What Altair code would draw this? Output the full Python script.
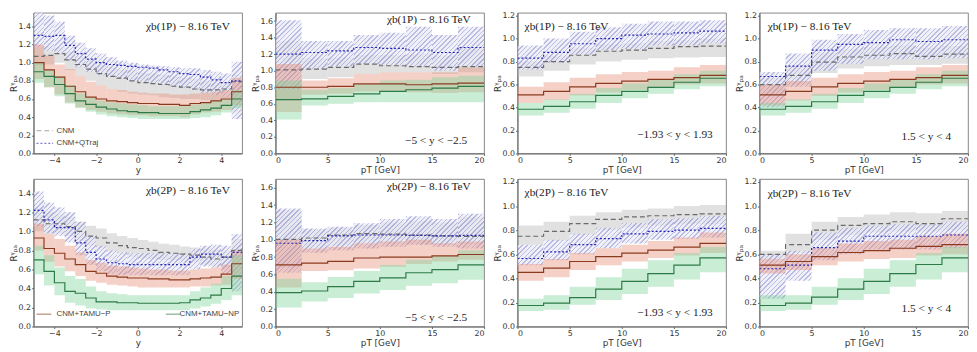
import math
import altair as alt
import pandas as pd

# ---------------- bins & ticks ----------------
Y_EDGES = [-5.0, -4.5, -4.0, -3.5, -3.0, -2.5, -2.0, -1.5, -1.0, -0.5, 0.0,
           0.5, 1.0, 1.5, 2.0, 2.5, 3.0, 3.5, 4.0, 4.5, 5.0]
PT_EDGES = [0.0, 2.5, 5.0, 7.5, 10.0, 12.5, 15.0, 17.5, 20.0]
Y_TICKS = [-4, -2, 0, 2, 4]
PT_TICKS = [0, 5, 10, 15, 20]
R_TICKS_HI = [0.0, 0.2, 0.4, 0.6, 0.8, 1.0, 1.2, 1.4, 1.6]
R_TICKS_LO = [0.0, 0.2, 0.4, 0.6, 0.8, 1.0, 1.2]

SERIES = ["CNM", "CNM+QTraj", "CNM+TAMU\u2212P", "CNM+TAMU\u2212NP"]
LINE_COLORS = ["#6a6a6a", "#2323b5", "#8a3b1e", "#2c7a45"]
BAND_COLORS = ["#bdbdbd", "#9a9ad8", "#e8907a", "#7fd39b"]
BAND_OPACITY = [0.45, 0.32, 0.42, 0.42]
DASHES = [[5, 3], [2, 2], None, None]
HATCH_LINE = "#9d9dd6"
HATCH_BG = "#e9e9f6"

# ---------------- chi_b(1P) vs y ----------------
P1_CNM = [1.07, 1.08, 1.10, 1.03, 0.98, 0.93, 0.88, 0.85, 0.83, 0.80, 0.78, 0.77, 0.76, 0.74, 0.73, 0.71, 0.70, 0.70, 0.71, 0.79]
P1_CNM_HI = [1.20, 1.18, 1.17, 1.12, 1.07, 1.03, 0.98, 0.95, 0.93, 0.92, 0.89, 0.88, 0.87, 0.85, 0.83, 0.82, 0.80, 0.79, 0.78, 0.87]
P1_CNM_LO = [0.97, 0.98, 1.00, 0.92, 0.85, 0.80, 0.75, 0.71, 0.68, 0.66, 0.65, 0.64, 0.62, 0.61, 0.60, 0.60, 0.59, 0.58, 0.61, 0.45]
P1_QT = [1.30, 1.29, 1.30, 1.19, 1.10, 1.04, 1.00, 0.98, 0.97, 0.96, 0.95, 0.94, 0.92, 0.90, 0.88, 0.87, 0.84, 0.81, 0.78, 0.80]
P1_QT_HI = [1.60, 1.52, 1.45, 1.30, 1.22, 1.16, 1.10, 1.06, 1.02, 1.00, 0.98, 0.97, 0.96, 0.95, 0.94, 0.94, 0.92, 0.90, 0.88, 1.01]
P1_QT_LO = [1.17, 1.13, 1.10, 1.02, 0.95, 0.90, 0.86, 0.84, 0.82, 0.80, 0.79, 0.78, 0.76, 0.74, 0.72, 0.70, 0.67, 0.64, 0.62, 0.38]
P1_TP = [1.00, 0.92, 0.84, 0.74, 0.68, 0.62, 0.60, 0.58, 0.57, 0.56, 0.55, 0.55, 0.54, 0.54, 0.53, 0.55, 0.56, 0.58, 0.60, 0.68]
P1_TP_HI = [1.20, 1.08, 0.98, 0.93, 0.85, 0.79, 0.75, 0.71, 0.70, 0.68, 0.67, 0.66, 0.66, 0.65, 0.65, 0.66, 0.67, 0.68, 0.70, 0.83]
P1_TP_LO = [0.82, 0.73, 0.65, 0.56, 0.51, 0.48, 0.46, 0.44, 0.43, 0.42, 0.42, 0.41, 0.41, 0.41, 0.40, 0.43, 0.45, 0.46, 0.48, 0.53]
P1_TNP = [0.90, 0.85, 0.76, 0.66, 0.58, 0.54, 0.51, 0.49, 0.47, 0.46, 0.45, 0.45, 0.44, 0.44, 0.44, 0.46, 0.48, 0.50, 0.53, 0.60]
P1_TNP_HI = [1.00, 0.92, 0.85, 0.75, 0.66, 0.62, 0.58, 0.56, 0.55, 0.54, 0.53, 0.52, 0.52, 0.52, 0.52, 0.54, 0.56, 0.58, 0.60, 0.70]
P1_TNP_LO = [0.78, 0.73, 0.63, 0.55, 0.50, 0.46, 0.43, 0.41, 0.40, 0.39, 0.38, 0.38, 0.38, 0.38, 0.38, 0.39, 0.40, 0.42, 0.45, 0.50]

# ---------------- chi_b(1P) vs pT, -5<y<-2.5 ----------------
P2_CNM = [1.01, 1.02, 1.04, 1.08, 1.06, 1.05, 1.04, 1.05]
P2_CNM_HI = [1.36, 1.15, 1.16, 1.19, 1.19, 1.20, 1.18, 1.27]
P2_CNM_LO = [0.65, 0.90, 0.92, 0.96, 0.98, 0.98, 0.96, 0.98]
P2_QT = [1.20, 1.22, 1.24, 1.28, 1.27, 1.25, 1.22, 1.28]
P2_QT_HI = [1.61, 1.36, 1.36, 1.43, 1.46, 1.53, 1.43, 1.53]
P2_QT_LO = [0.78, 1.02, 1.05, 1.08, 1.07, 1.05, 1.00, 1.05]
P2_TP = [0.80, 0.80, 0.81, 0.84, 0.84, 0.83, 0.84, 0.85]
P2_TP_HI = [1.08, 0.88, 0.91, 0.96, 0.98, 0.98, 0.98, 1.04]
P2_TP_LO = [0.50, 0.71, 0.72, 0.75, 0.75, 0.74, 0.73, 0.74]
P2_TNP = [0.65, 0.66, 0.69, 0.72, 0.75, 0.77, 0.79, 0.81]
P2_TNP_HI = [0.88, 0.77, 0.79, 0.84, 0.88, 0.89, 0.92, 0.94]
P2_TNP_LO = [0.41, 0.58, 0.60, 0.62, 0.62, 0.62, 0.62, 0.62]

# ---------------- chi_b(1P) vs pT, -1.93<y<1.93 ----------------
P3_CNM = [0.75, 0.80, 0.855, 0.89, 0.90, 0.915, 0.93, 0.935]
P3_CNM_HI = [0.80, 0.85, 0.92, 0.95, 0.96, 0.98, 0.985, 1.00]
P3_CNM_LO = [0.67, 0.72, 0.775, 0.80, 0.815, 0.83, 0.835, 0.84]
P3_QT = [0.83, 0.88, 0.955, 1.00, 1.03, 1.04, 1.05, 1.065]
P3_QT_HI = [0.94, 1.00, 1.06, 1.10, 1.13, 1.15, 1.15, 1.16]
P3_QT_LO = [0.73, 0.79, 0.86, 0.90, 0.91, 0.94, 0.94, 0.96]
P3_TP = [0.51, 0.54, 0.58, 0.61, 0.63, 0.645, 0.66, 0.68]
P3_TP_HI = [0.58, 0.62, 0.66, 0.69, 0.71, 0.72, 0.75, 0.77]
P3_TP_LO = [0.44, 0.465, 0.505, 0.53, 0.555, 0.57, 0.60, 0.61]
P3_TNP = [0.385, 0.41, 0.45, 0.505, 0.54, 0.575, 0.62, 0.655]
P3_TNP_HI = [0.44, 0.47, 0.52, 0.57, 0.61, 0.64, 0.69, 0.72]
P3_TNP_LO = [0.33, 0.355, 0.39, 0.44, 0.48, 0.52, 0.56, 0.585]

# ---------------- chi_b(1P) vs pT, 1.5<y<4 ----------------
P4_CNM = [0.60, 0.68, 0.795, 0.84, 0.855, 0.87, 0.845, 0.865]
P4_CNM_HI = [0.66, 0.76, 0.88, 0.91, 0.93, 0.94, 0.92, 0.935]
P4_CNM_LO = [0.52, 0.60, 0.70, 0.74, 0.76, 0.77, 0.77, 0.78]
P4_QT = [0.67, 0.76, 0.90, 0.95, 0.965, 0.99, 0.975, 0.99]
P4_QT_HI = [0.71, 0.87, 0.99, 1.04, 1.075, 1.09, 1.09, 1.11]
P4_QT_LO = [0.40, 0.58, 0.72, 0.78, 0.82, 0.82, 0.82, 0.83]
P4_TP = [0.51, 0.54, 0.58, 0.61, 0.63, 0.645, 0.66, 0.68]
P4_TP_HI = [0.60, 0.63, 0.66, 0.69, 0.71, 0.72, 0.75, 0.77]
P4_TP_LO = [0.42, 0.46, 0.50, 0.53, 0.555, 0.57, 0.60, 0.61]
P4_TNP = [0.385, 0.41, 0.45, 0.505, 0.54, 0.575, 0.62, 0.655]
P4_TNP_HI = [0.44, 0.47, 0.52, 0.57, 0.61, 0.64, 0.69, 0.72]
P4_TNP_LO = [0.33, 0.355, 0.39, 0.44, 0.48, 0.52, 0.56, 0.585]

# ---------------- chi_b(2P) vs y ----------------
P5_CNM = [1.12, 1.08, 1.08, 1.05, 1.00, 0.95, 0.93, 0.88, 0.85, 0.83, 0.82, 0.80, 0.78, 0.77, 0.76, 0.75, 0.73, 0.71, 0.73, 0.80]
P5_CNM_HI = [1.25, 1.20, 1.18, 1.15, 1.10, 1.06, 1.03, 0.98, 0.95, 0.93, 0.91, 0.89, 0.87, 0.86, 0.84, 0.83, 0.82, 0.81, 0.80, 0.92]
P5_CNM_LO = [1.00, 0.97, 0.97, 0.95, 0.90, 0.85, 0.82, 0.79, 0.76, 0.73, 0.72, 0.71, 0.70, 0.69, 0.68, 0.67, 0.65, 0.63, 0.62, 0.55]
P5_QT = [1.22, 1.12, 1.04, 1.04, 0.88, 0.78, 0.71, 0.67, 0.66, 0.65, 0.65, 0.65, 0.65, 0.65, 0.65, 0.73, 0.76, 0.76, 0.73, 0.78]
P5_QT_HI = [1.42, 1.30, 1.25, 1.20, 1.10, 0.95, 0.85, 0.80, 0.78, 0.77, 0.77, 0.77, 0.77, 0.77, 0.77, 0.82, 0.85, 0.86, 0.85, 0.97]
P5_QT_LO = [1.05, 0.98, 0.95, 0.88, 0.75, 0.65, 0.58, 0.55, 0.54, 0.54, 0.54, 0.54, 0.54, 0.54, 0.54, 0.60, 0.63, 0.62, 0.55, 0.37]
P5_TP = [0.93, 0.82, 0.77, 0.71, 0.65, 0.58, 0.56, 0.53, 0.52, 0.51, 0.51, 0.50, 0.50, 0.49, 0.49, 0.50, 0.51, 0.52, 0.55, 0.66]
P5_TP_HI = [1.08, 0.97, 0.92, 0.85, 0.78, 0.70, 0.67, 0.64, 0.63, 0.62, 0.61, 0.60, 0.60, 0.59, 0.59, 0.60, 0.61, 0.62, 0.65, 0.80]
P5_TP_LO = [0.80, 0.68, 0.63, 0.58, 0.53, 0.48, 0.46, 0.44, 0.43, 0.42, 0.41, 0.41, 0.41, 0.41, 0.41, 0.42, 0.42, 0.43, 0.44, 0.50]
P5_TNP = [0.70, 0.58, 0.46, 0.37, 0.35, 0.30, 0.26, 0.26, 0.25, 0.25, 0.245, 0.245, 0.245, 0.245, 0.25, 0.28, 0.30, 0.33, 0.40, 0.53]
P5_TNP_HI = [0.85, 0.75, 0.62, 0.53, 0.50, 0.42, 0.37, 0.35, 0.34, 0.33, 0.33, 0.33, 0.33, 0.33, 0.33, 0.37, 0.41, 0.45, 0.53, 0.75]
P5_TNP_LO = [0.55, 0.43, 0.33, 0.25, 0.22, 0.19, 0.18, 0.17, 0.17, 0.17, 0.17, 0.17, 0.17, 0.17, 0.17, 0.19, 0.21, 0.24, 0.28, 0.33]

# ---------------- chi_b(2P) vs pT, -5<y<-2.5 ----------------
P6_CNM = [1.005, 1.02, 1.055, 1.07, 1.065, 1.055, 1.045, 1.04]
P6_CNM_HI = [1.34, 1.12, 1.14, 1.17, 1.20, 1.22, 1.20, 1.26]
P6_CNM_LO = [0.68, 0.90, 0.93, 0.96, 0.96, 0.95, 0.94, 0.95]
P6_QT = [0.96, 0.99, 1.045, 1.055, 1.055, 1.05, 1.045, 1.05]
P6_QT_HI = [1.36, 1.13, 1.15, 1.19, 1.24, 1.27, 1.24, 1.30]
P6_QT_LO = [0.62, 0.85, 0.88, 0.90, 0.92, 0.94, 0.92, 0.90]
P6_TP = [0.71, 0.73, 0.75, 0.79, 0.80, 0.80, 0.815, 0.83]
P6_TP_HI = [1.00, 0.90, 0.92, 0.96, 0.98, 1.00, 0.96, 0.98]
P6_TP_LO = [0.45, 0.64, 0.65, 0.67, 0.69, 0.72, 0.75, 0.77]
P6_TNP = [0.39, 0.41, 0.46, 0.52, 0.56, 0.62, 0.655, 0.71]
P6_TNP_HI = [0.55, 0.51, 0.57, 0.64, 0.71, 0.77, 0.82, 0.88]
P6_TNP_LO = [0.22, 0.29, 0.33, 0.38, 0.42, 0.47, 0.50, 0.54]

# ---------------- chi_b(2P) vs pT, -1.93<y<1.93 ----------------
P7_CNM = [0.75, 0.79, 0.855, 0.89, 0.91, 0.92, 0.93, 0.935]
P7_CNM_HI = [0.84, 0.87, 0.92, 0.95, 0.97, 0.98, 1.00, 1.01]
P7_CNM_LO = [0.68, 0.71, 0.76, 0.80, 0.82, 0.84, 0.85, 0.85]
P7_QT = [0.565, 0.62, 0.68, 0.73, 0.77, 0.79, 0.80, 0.815]
P7_QT_HI = [0.68, 0.72, 0.77, 0.82, 0.86, 0.89, 0.90, 0.92]
P7_QT_LO = [0.51, 0.55, 0.60, 0.65, 0.69, 0.72, 0.73, 0.74]
P7_TP = [0.45, 0.485, 0.54, 0.58, 0.61, 0.635, 0.66, 0.69]
P7_TP_HI = [0.52, 0.56, 0.61, 0.65, 0.68, 0.71, 0.74, 0.78]
P7_TP_LO = [0.38, 0.41, 0.47, 0.51, 0.54, 0.57, 0.59, 0.61]
P7_TNP = [0.175, 0.195, 0.24, 0.31, 0.375, 0.44, 0.51, 0.57]
P7_TNP_HI = [0.23, 0.26, 0.33, 0.41, 0.48, 0.55, 0.61, 0.66]
P7_TNP_LO = [0.13, 0.14, 0.18, 0.22, 0.27, 0.33, 0.39, 0.45]

# ---------------- chi_b(2P) vs pT, 1.5<y<4 ----------------
P8_CNM = [0.60, 0.68, 0.80, 0.84, 0.855, 0.87, 0.855, 0.895]
P8_CNM_HI = [0.63, 0.77, 0.87, 0.91, 0.93, 0.95, 0.94, 0.96]
P8_CNM_LO = [0.56, 0.61, 0.72, 0.76, 0.78, 0.79, 0.79, 0.80]
P8_QT = [0.48, 0.51, 0.655, 0.71, 0.75, 0.75, 0.75, 0.76]
P8_QT_HI = [0.60, 0.63, 0.78, 0.82, 0.84, 0.85, 0.85, 0.87]
P8_QT_LO = [0.23, 0.38, 0.55, 0.60, 0.64, 0.64, 0.64, 0.65]
P8_TP = [0.51, 0.54, 0.58, 0.615, 0.63, 0.65, 0.665, 0.68]
P8_TP_HI = [0.56, 0.60, 0.65, 0.69, 0.71, 0.72, 0.75, 0.77]
P8_TP_LO = [0.44, 0.47, 0.51, 0.54, 0.56, 0.57, 0.59, 0.60]
P8_TNP = [0.175, 0.195, 0.245, 0.31, 0.375, 0.44, 0.515, 0.57]
P8_TNP_HI = [0.26, 0.26, 0.33, 0.40, 0.48, 0.55, 0.61, 0.66]
P8_TNP_LO = [0.13, 0.14, 0.18, 0.22, 0.27, 0.33, 0.39, 0.45]

HEAD_1P = "\u03c7b(1P) \u2212 8.16 TeV"
HEAD_2P = "\u03c7b(2P) \u2212 8.16 TeV"
RANGES = ["\u22125 < y < \u22122.5", "\u22121.93 < y < 1.93", "1.5 < y < 4"]

W, H1, H2 = 212, 143, 150
Y_TITLE = "R\u1d5e\u209a\u2090"
PT_TITLE = "pT [GeV]"
HATCH_PERIOD = 3.4  # px between hatch lines


def hatch_fill(w, h):
    """Diagonal '////' hatch as a striped linear gradient for a w x h px rect."""
    s = w + h
    k = s / (w * w + h * h)
    dt = HATCH_PERIOD * math.sqrt(2) / s
    stops = []
    j = 0
    while j * dt < 1:
        t0 = j * dt
        t1 = min(t0 + 0.32 * dt, 1)
        t2 = min((j + 1) * dt, 1)
        stops += [alt.GradientStop(offset=t0, color=HATCH_LINE),
                  alt.GradientStop(offset=t1, color=HATCH_LINE),
                  alt.GradientStop(offset=t1, color=HATCH_BG),
                  alt.GradientStop(offset=t2, color=HATCH_BG)]
        j += 1
    return alt.LinearGradient(gradient="linear", stops=stops,
                              x1=0, y1=0, x2=w * k, y2=h * k)


def panel(edges, vals, ydom, xticks, yticks, xtitle, head, head_pos, h,
          rng=None, rng_pos=None, legend=None):
    xs = alt.Scale(domain=[edges[0], edges[-1]], nice=False, zero=False)
    ys = alt.Scale(domain=ydom, nice=False, zero=False)
    xa = alt.Axis(values=xticks, title=xtitle, format="d")
    ya = alt.Axis(values=yticks, title=Y_TITLE, format=".1f")

    def X(f="x"):
        return alt.X(f + ":Q", scale=xs, axis=xa)

    def Y(f="y"):
        return alt.Y(f + ":Q", scale=ys, axis=ya)

    nb = len(edges) - 1
    wpx = W / nb
    layers = []
    for i, (line, lo, hi) in enumerate(vals):
        if i == 1:
            for b in range(nb):
                hpx = max((hi[b] - lo[b]) / (ydom[1] - ydom[0]) * h, 1.0)
                bd = pd.DataFrame({"x": [edges[b]], "x2": [edges[b + 1]], "y": [lo[b]], "y2": [hi[b]]})
                layers.append(
                    alt.Chart(bd).mark_rect(fill=hatch_fill(wpx, hpx), opacity=0.7, clip=True)
                    .encode(x=X(), x2="x2:Q", y=Y(), y2="y2:Q")
                )
            continue
        band = pd.DataFrame({"x": edges[:-1], "x2": edges[1:], "y": lo, "y2": hi})
        layers.append(
            alt.Chart(band).mark_rect(color=BAND_COLORS[i], opacity=BAND_OPACITY[i], clip=True)
            .encode(x=X(), x2="x2:Q", y=Y(), y2="y2:Q")
        )
    for i, (line, lo, hi) in enumerate(vals):
        ld = pd.DataFrame({"x": edges, "y": list(line) + [line[-1]]})
        kw = dict(interpolate="step-after", color=LINE_COLORS[i], strokeWidth=1.2, clip=True)
        if DASHES[i]:
            kw["strokeDash"] = DASHES[i]
        layers.append(alt.Chart(ld).mark_line(**kw).encode(x=X(), y=Y()))

    hd = pd.DataFrame({"x": [head_pos[0]], "y": [head_pos[1]], "t": [head]})
    layers.append(
        alt.Chart(hd).mark_text(font="Liberation Serif", fontSize=11.5, color="#222", align="center")
        .encode(x=X(), y=Y(), text="t:N")
    )
    if rng:
        rd = pd.DataFrame({"x": [rng_pos[0]], "y": [rng_pos[1]], "t": [rng]})
        layers.append(
            alt.Chart(rd).mark_text(font="Liberation Serif", fontSize=11.5, color="#222", align="center")
            .encode(x=X(), y=Y(), text="t:N")
        )
    if legend:
        for (idx, x0, x1, yv, tx) in legend:
            kw = dict(color=LINE_COLORS[idx], stroke=LINE_COLORS[idx], strokeWidth=1.2, opacity=0.6)
            if DASHES[idx]:
                kw["strokeDash"] = DASHES[idx]
            sd = pd.DataFrame({"x": [x0], "x2": [x1], "y": [yv]})
            layers.append(alt.Chart(sd).mark_rule(**kw).encode(x=X(), x2="x2:Q", y=Y()))
            td = pd.DataFrame({"x": [tx], "y": [yv], "t": [SERIES[idx]]})
            layers.append(
                alt.Chart(td).mark_text(font="Liberation Sans", fontSize=8, color="#444", align="left")
                .encode(x=X(), y=Y(), text="t:N")
            )
    return alt.layer(*layers).properties(width=W, height=h)


def v(a, b, c, d, e, f, g, h, i, j, k, l):
    return [(a, b, c), (d, e, f), (g, h, i), (j, k, l)]


p1 = panel(Y_EDGES, v(P1_CNM, P1_CNM_LO, P1_CNM_HI, P1_QT, P1_QT_LO, P1_QT_HI,
                      P1_TP, P1_TP_LO, P1_TP_HI, P1_TNP, P1_TNP_LO, P1_TNP_HI),
           [0, 1.55], Y_TICKS, R_TICKS_HI[:8], "y", HEAD_1P, (2.4, 1.39), H1,
           legend=[(0, -4.86, -4.06, 0.25, -3.9), (1, -4.86, -4.06, 0.11, -3.9)])
p2 = panel(PT_EDGES, v(P2_CNM, P2_CNM_LO, P2_CNM_HI, P2_QT, P2_QT_LO, P2_QT_HI,
                       P2_TP, P2_TP_LO, P2_TP_HI, P2_TNP, P2_TNP_LO, P2_TNP_HI),
           [0, 1.7], PT_TICKS, R_TICKS_HI, PT_TITLE, HEAD_1P, (14.7, 1.61), H1, RANGES[0], (15.4, 0.15))
p3 = panel(PT_EDGES, v(P3_CNM, P3_CNM_LO, P3_CNM_HI, P3_QT, P3_QT_LO, P3_QT_HI,
                       P3_TP, P3_TP_LO, P3_TP_HI, P3_TNP, P3_TNP_LO, P3_TNP_HI),
           [0, 1.225], PT_TICKS, R_TICKS_LO, PT_TITLE, HEAD_1P, (4.7, 1.105), H1, RANGES[1], (15.1, 0.16))
p4 = panel(PT_EDGES, v(P4_CNM, P4_CNM_LO, P4_CNM_HI, P4_QT, P4_QT_LO, P4_QT_HI,
                       P4_TP, P4_TP_LO, P4_TP_HI, P4_TNP, P4_TNP_LO, P4_TNP_HI),
           [0, 1.225], PT_TICKS, R_TICKS_LO, PT_TITLE, HEAD_1P, (4.8, 1.10), H1, RANGES[2], (16.0, 0.145))
p5 = panel(Y_EDGES, v(P5_CNM, P5_CNM_LO, P5_CNM_HI, P5_QT, P5_QT_LO, P5_QT_HI,
                      P5_TP, P5_TP_LO, P5_TP_HI, P5_TNP, P5_TNP_LO, P5_TNP_HI),
           [0, 1.55], Y_TICKS, R_TICKS_HI[:8], "y", HEAD_2P, (2.4, 1.42), H2,
           legend=[(2, -4.86, -4.15, 0.13, -3.9), (3, 1.34, 2.04, 0.13, 2.0)])
p6 = panel(PT_EDGES, v(P6_CNM, P6_CNM_LO, P6_CNM_HI, P6_QT, P6_QT_LO, P6_QT_HI,
                       P6_TP, P6_TP_LO, P6_TP_HI, P6_TNP, P6_TNP_LO, P6_TNP_HI),
           [0, 1.7], PT_TICKS, R_TICKS_HI, PT_TITLE, HEAD_2P, (14.7, 1.61), H2, RANGES[0], (15.4, 0.10))
p7 = panel(PT_EDGES, v(P7_CNM, P7_CNM_LO, P7_CNM_HI, P7_QT, P7_QT_LO, P7_QT_HI,
                       P7_TP, P7_TP_LO, P7_TP_HI, P7_TNP, P7_TNP_LO, P7_TNP_HI),
           [0, 1.225], PT_TICKS, R_TICKS_LO, PT_TITLE, HEAD_2P, (4.7, 1.105), H2, RANGES[1], (15.1, 0.108))
p8 = panel(PT_EDGES, v(P8_CNM, P8_CNM_LO, P8_CNM_HI, P8_QT, P8_QT_LO, P8_QT_HI,
                       P8_TP, P8_TP_LO, P8_TP_HI, P8_TNP, P8_TNP_LO, P8_TNP_HI),
           [0, 1.225], PT_TICKS, R_TICKS_LO, PT_TITLE, HEAD_2P, (4.8, 1.10), H2, RANGES[2], (16.0, 0.143))

row1 = alt.hconcat(p1, p2, p3, p4, spacing=7)
row2 = alt.hconcat(p5, p6, p7, p8, spacing=7)

chart = alt.vconcat(row1, row2, spacing=2, padding=0).configure_view(
    stroke="#666", strokeWidth=0.8
).configure_axis(
    grid=False, labelFont="DejaVu Sans", labelFontSize=8, titleFont="DejaVu Sans",
    titleFontSize=9, titleFontWeight="normal", labelColor="#333", titleColor="#333",
    domainColor="#666", tickColor="#666", tickSize=2, labelPadding=1,
).configure_axisY(titlePadding=0).configure_axisX(titlePadding=1)

chart.save("out.html", embed_options={"renderer": "svg", "actions": False})
